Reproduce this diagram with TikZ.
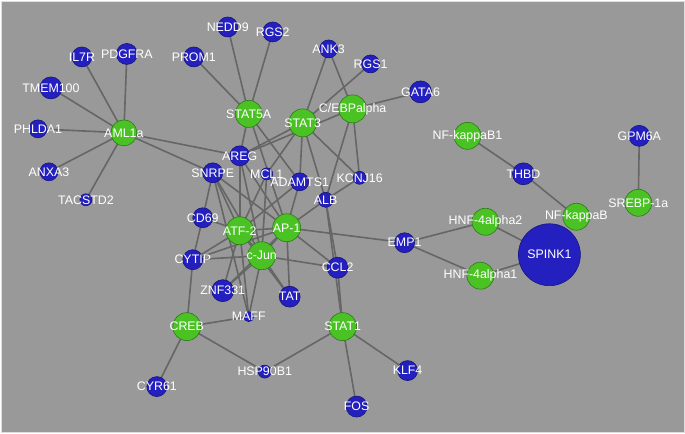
\documentclass[tikz,border=0pt]{standalone}
\usepackage{fontspec}
\setmainfont{Liberation Sans}
\pgfdeclarelayer{bg}
\pgfdeclarelayer{edges}
\pgfsetlayers{bg,edges,main}
\definecolor{bgc}{RGB}{153,153,153}
\definecolor{frm}{RGB}{222,222,222}
\definecolor{gfill}{RGB}{74,194,36}
\definecolor{gline}{RGB}{45,120,25}
\definecolor{bfill}{RGB}{36,32,192}
\definecolor{bline}{RGB}{22,20,120}
\definecolor{edgec}{RGB}{102,102,102}
\tikzset{
  gn/.style={circle,inner sep=0pt,fill=gfill,draw=gline,line width=0.6pt},
  bn/.style={circle,inner sep=0pt,fill=bfill,draw=bline,line width=0.6pt},
  lbl/.style={text=white,inner sep=0pt,font=\fontsize{12.4}{14}\selectfont},
  lnk/.style={draw=edgec,line width=1.6pt}
}
\newcommand\nd[6]{\node[#5,minimum size={2*#4pt}] (#1) at (#2,#3) {};}
\newcommand\lb[2]{\node[lbl] (#1-l) at (#1.center) {#2};}
\begin{document}
\begin{tikzpicture}[x=1pt,y=-1pt]
\begin{pgfonlayer}{bg}
\node[fill=bgc,draw=frm,line width=1.5pt,minimum width=683.5pt,minimum height=431.5pt,inner sep=0pt,anchor=north west] (frame) at (0.75,0.75) {};
\end{pgfonlayer}
\useasboundingbox (0,0) rectangle (685,433);
% nodes
\nd{aml}{124}{133}{13}{gn}{}
\nd{il7r}{82}{57}{10}{bn}{}
\nd{pdgfra}{127}{54}{10.5}{bn}{}
\nd{tmem}{51}{88}{11}{bn}{}
\nd{phlda}{38}{129}{9}{bn}{}
\nd{anxa}{49}{172}{9}{bn}{}
\nd{tacstd}{86}{200}{6}{bn}{}
\nd{prom}{194}{57}{10}{bn}{}
\nd{nedd}{228}{27}{10}{bn}{}
\nd{rgs2}{273}{32}{10}{bn}{}
\nd{ank3}{329}{49}{9}{bn}{}
\nd{rgs1}{371}{64}{9}{bn}{}
\nd{gata6}{421}{92}{11}{bn}{}
\nd{stat5a}{249}{114}{13.5}{gn}{}
\nd{stat3}{303}{123}{14}{gn}{}
\nd{cebp}{353}{109}{14}{gn}{}
\nd{areg}{240}{156}{10}{bn}{}
\nd{snrpe}{213}{173}{10}{bn}{}
\nd{mcl}{267}{174}{6}{bn}{}
\nd{adamts}{300}{182}{9}{bn}{}
\nd{kcnj}{360}{178}{6.5}{bn}{}
\nd{alb}{326}{200}{7.5}{bn}{}
\nd{cd69}{203}{218}{10}{bn}{}
\nd{atf2}{240}{231}{14}{gn}{}
\nd{ap1}{287}{228}{14}{gn}{}
\nd{cjun}{262}{256}{14}{gn}{}
\nd{cytip}{193}{260}{10}{bn}{}
\nd{znf}{223}{291}{11}{bn}{}
\nd{tat}{290}{297}{10.5}{bn}{}
\nd{ccl2}{338}{268}{10.5}{bn}{}
\nd{maff}{249}{317}{5}{bn}{}
\nd{creb}{187}{327}{14}{gn}{}
\nd{stat1}{343}{327}{14}{gn}{}
\nd{hsp}{265}{372}{6.5}{bn}{}
\nd{fos}{357}{407}{10.5}{bn}{}
\nd{klf4}{408}{371}{10}{bn}{}
\nd{cyr61}{157}{387}{10}{bn}{}
\nd{emp1}{405}{243}{10}{bn}{}
\nd{nfkb1}{468}{136}{13.5}{gn}{}
\nd{thbd}{524}{174}{11}{bn}{}
\nd{nfkb}{577}{217}{13.5}{gn}{}
\nd{hnf2}{486}{222}{13.5}{gn}{}
\nd{hnf1}{481}{276}{13.5}{gn}{}
\nd{spink}{550}{255}{31}{bn}{}
\nd{gpm6a}{640}{136}{10.5}{bn}{}
\nd{srebp}{639}{203}{13.5}{gn}{}
% labels
\lb{aml}{AML1a}
\lb{il7r}{IL7R}
\lb{pdgfra}{PDGFRA}
\lb{tmem}{TMEM100}
\lb{phlda}{PHLDA1}
\lb{anxa}{ANXA3}
\lb{tacstd}{TACSTD2}
\lb{prom}{PROM1}
\lb{nedd}{NEDD9}
\lb{rgs2}{RGS2}
\lb{ank3}{ANK3}
\lb{rgs1}{RGS1}
\lb{gata6}{GATA6}
\lb{stat5a}{STAT5A}
\lb{stat3}{STAT3}
\lb{cebp}{C/EBPalpha}
\lb{areg}{AREG}
\lb{snrpe}{SNRPE}
\lb{mcl}{MCL1}
\lb{adamts}{ADAMTS1}
\lb{kcnj}{KCNJ16}
\lb{alb}{ALB}
\lb{cd69}{CD69}
\lb{atf2}{ATF-2}
\lb{ap1}{AP-1}
\lb{cjun}{c-Jun}
\lb{cytip}{CYTIP}
\lb{znf}{ZNF331}
\lb{tat}{TAT}
\lb{ccl2}{CCL2}
\lb{maff}{MAFF}
\lb{creb}{CREB}
\lb{stat1}{STAT1}
\lb{hsp}{HSP90B1}
\lb{fos}{FOS}
\lb{klf4}{KLF4}
\lb{cyr61}{CYR61}
\lb{emp1}{EMP1}
\lb{nfkb1}{NF-kappaB1}
\lb{thbd}{THBD}
\lb{nfkb}{NF-kappaB}
\lb{hnf2}{HNF-4alpha2}
\lb{hnf1}{HNF-4alpha1}
\lb{spink}{SPINK1}
\lb{gpm6a}{GPM6A}
\lb{srebp}{SREBP-1a}
% edges
\begin{pgfonlayer}{edges}
\foreach \a/\b in {aml/il7r,aml/pdgfra,aml/tmem,aml/phlda,aml/anxa,aml/tacstd,aml/areg,aml/snrpe,
  stat5a/prom,stat5a/nedd,stat5a/rgs2,stat5a/areg,stat5a/adamts,stat5a/ap1,
  stat3/ank3,stat3/rgs1,stat3/areg,stat3/adamts,stat3/alb,stat3/kcnj,stat3/mcl,
  cebp/ank3,cebp/gata6,cebp/areg,cebp/kcnj,cebp/alb,
  alb/kcnj,alb/ap1,alb/ccl2,alb/stat1,
  snrpe/cd69,snrpe/atf2,snrpe/cjun,snrpe/maff,snrpe/ap1,
  areg/atf2,areg/cjun,areg/ap1,
  mcl/atf2,mcl/cjun,adamts/atf2,adamts/ap1,
  cd69/atf2,cd69/cytip,atf2/ap1,atf2/cjun,ap1/cjun,
  cytip/atf2,cytip/ap1,cytip/cjun,cytip/creb,
  znf/atf2,znf/cjun,znf/ap1,
  maff/atf2,maff/cjun,maff/creb,
  tat/ap1,tat/cjun,tat/atf2,
  ccl2/ap1,ccl2/cjun,ccl2/stat1,ap1/emp1,
  stat1/hsp,stat1/klf4,stat1/fos,creb/hsp,creb/cyr61,
  emp1/hnf2,emp1/hnf1,hnf2/spink,hnf1/spink,
  nfkb1/thbd,thbd/nfkb,gpm6a/srebp}
  \draw[lnk] (\a.center) -- (\b.center);
\end{pgfonlayer}
\end{tikzpicture}
\end{document}
